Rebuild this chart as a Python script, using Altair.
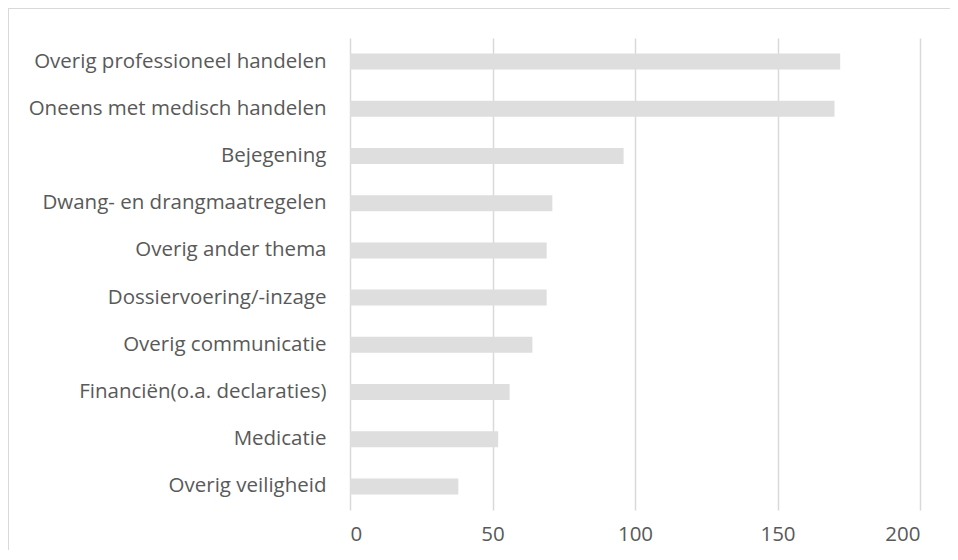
import altair as alt
import pandas as pd

categories = [
    "Overig professioneel handelen",
    "Oneens met medisch handelen",
    "Bejegening",
    "Dwang- en drangmaatregelen",
    "Overig ander thema",
    "Dossiervoering/-inzage",
    "Overig communicatie",
    "Financiën(o.a. declaraties)",
    "Medicatie",
    "Overig veiligheid",
]
values = [172, 170, 96, 71, 69, 69, 64, 56, 52, 38]
x_ticks = [0, 50, 100, 150, 200]

df = pd.DataFrame({"cat": categories, "val": values})

FONT = "Open Sans"
TXT = "#595959"
GRID = "#d9d9d9"

bars = alt.Chart(df).mark_bar(color="#dedede").encode(
    x=alt.X(
        "val:Q",
        scale=alt.Scale(domain=[0, 200], nice=False),
        axis=alt.Axis(
            values=x_ticks,
            title=None,
            grid=True,
            gridColor=GRID,
            gridWidth=1.5,
            domain=False,
            ticks=False,
            labelPadding=14,
            labelFontSize=20.5,
            labelColor=TXT,
            labelFont=FONT,
        ),
    ),
    y=alt.Y(
        "cat:N",
        sort=categories,
        scale=alt.Scale(paddingInner=0.66, paddingOuter=0.33),
        axis=alt.Axis(
            title=None,
            domain=False,
            ticks=False,
            grid=False,
            labelPadding=24,
            labelFontSize=20.5,
            labelColor=TXT,
            labelFont=FONT,
            labelLimit=400,
        ),
    ),
)

top_border = alt.Chart(df).mark_rule(color=GRID, strokeWidth=1.5).encode(
    x=alt.value(-342), x2=alt.value(600), y=alt.value(-30)
)
left_border = alt.Chart(df).mark_rule(color=GRID, strokeWidth=1.5).encode(
    x=alt.value(-342), y=alt.value(-30), y2=alt.value(512)
)

chart = (
    alt.layer(bars, top_border, left_border)
    .properties(
        width=570,
        height=472,
        autosize=alt.AutoSizeParams(type="none"),
        padding={"left": 342, "top": 30, "right": 30, "bottom": 40},
        view=alt.ViewBackground(stroke="transparent", strokeWidth=0),
    )
    .configure_view(strokeWidth=0, stroke="transparent")
    .configure(background="white")
)

chart.save("out.html", embed_options={"renderer": "svg", "actions": False})
